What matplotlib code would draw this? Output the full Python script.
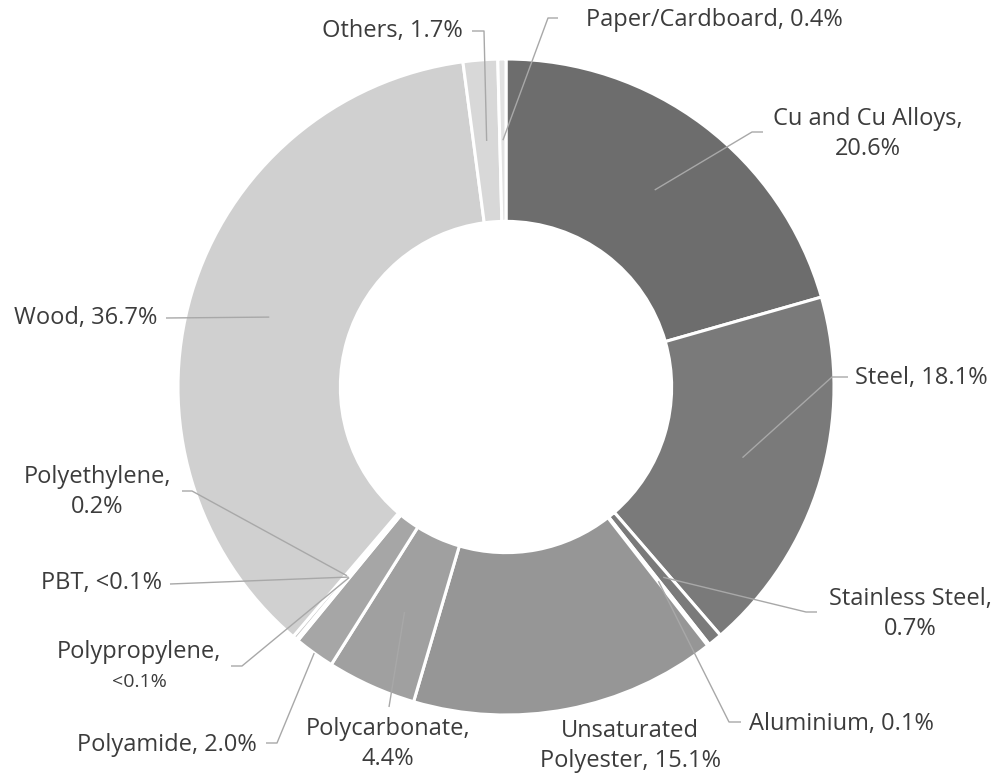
import matplotlib
matplotlib.use('Agg')
import matplotlib.pyplot as plt
import numpy as np

# data (clockwise from 12 o'clock)
materials = ['Cu and Cu Alloys', 'Steel', 'Stainless Steel', 'Aluminium',
             'Unsaturated Polyester', 'Polycarbonate', 'Polyamide',
             'Polypropylene', 'PBT', 'Polyethylene', 'Wood', 'Others',
             'Paper/Cardboard']
shares = [20.6, 18.1, 0.7, 0.1, 15.1, 4.4, 2.0, 0.05, 0.05, 0.2, 36.7, 1.7, 0.4]
label_text = ['Cu and Cu Alloys,\n20.6%', 'Steel, 18.1%', 'Stainless Steel,\n0.7%',
              'Aluminium, 0.1%', 'Unsaturated\nPolyester, 15.1%', 'Polycarbonate,\n4.4%',
              'Polyamide, 2.0%', 'Polypropylene,', 'PBT, <0.1%', 'Polyethylene,\n0.2%',
              'Wood, 36.7%', 'Others, 1.7%', 'Paper/Cardboard, 0.4%']
colors = ['#6d6d6d', '#7a7a7a', '#7a7a7a', '#8a8a8a', '#969696', '#a0a0a0',
          '#a6a6a6', '#b0b0b0', '#bababa', '#c4c4c4', '#d0d0d0', '#d8d8d8', '#e2e2e2']

W, H = 1000, 779
CX, CY, R = 506, 387, 328

# label layout in pixel coords (origin top-left): text pos, ha, elbow points, anchor
layout = {
    'Cu and Cu Alloys': (868, 134, 'center', [(763, 132), (752, 132)], 'mid'),
    'Steel': (855, 378, 'left', [(848, 377), (832, 377)], 'mid'),
    'Stainless Steel': (910, 614, 'center', [(817, 612), (806, 612)], 'mid'),
    'Aluminium': (749, 724, 'left', [(741, 722), (729, 722)], 'mid'),
    'Unsaturated Polyester': (630, 746, 'center', None, 'mid'),
    'Polycarbonate': (388, 744, 'center', [(389, 707)], 'mid'),
    'Polyamide': (257, 745, 'right', [(266, 743), (277, 743)], 'out'),
    'Polypropylene': (139, 652, 'center', [(231, 666), (242, 666)], 'mid'),
    'PBT': (162, 583, 'right', [(170, 584)], 'mid'),
    'Polyethylene': (97, 492, 'center', [(182, 491), (192, 491)], 'mid'),
    'Wood': (157, 318, 'right', [(166, 318)], 'mid'),
    'Others': (463, 31, 'right', [(472, 31), (484, 31)], 'mid'),
    'Paper/Cardboard': (586, 20, 'left', [(558, 18), (548, 18)], 'mid'),
}

plt.rcParams['font.family'] = ['Open Sans', 'DejaVu Sans']
text_color = '#3c3c3c'
line_color = '#a8a8a8'

fig = plt.figure(figsize=(W / 100, H / 100), dpi=100)
ax = fig.add_axes([0, 0, 1, 1])

wedges, _ = ax.pie(shares, colors=colors, startangle=90, counterclock=False,
                   center=(CX, H - CY), radius=R,
                   wedgeprops=dict(width=R * 0.495, edgecolor='white', linewidth=2.2))
ax.set_xlim(0, W)
ax.set_ylim(0, H)
ax.set_aspect('equal')
ax.axis('off')

for w, name, txt in zip(wedges, materials, label_text):
    tx, ty, ha, elbow, where = layout[name]
    ax.text(tx, H - ty, txt, ha=ha, va='center', fontsize=17, color=text_color,
            linespacing=1.38, multialignment='center')
    if name == 'Polypropylene':
        ax.text(tx, H - ty - 30, '<0.1%', ha='center', va='center', fontsize=14,
                color=text_color)
    if elbow is None:
        continue
    ang = np.deg2rad((w.theta1 + w.theta2) / 2)
    rr = w.r if where == 'out' else w.r - w.width / 2
    ax_x = CX + rr * np.cos(ang)
    ax_y = (H - CY) + rr * np.sin(ang)
    xs = [p[0] for p in elbow] + [ax_x]
    ys = [H - p[1] for p in elbow] + [ax_y]
    ax.plot(xs, ys, color=line_color, lw=1.0, solid_capstyle='butt')

fig.savefig('out.png', dpi=100)
plt.close()
